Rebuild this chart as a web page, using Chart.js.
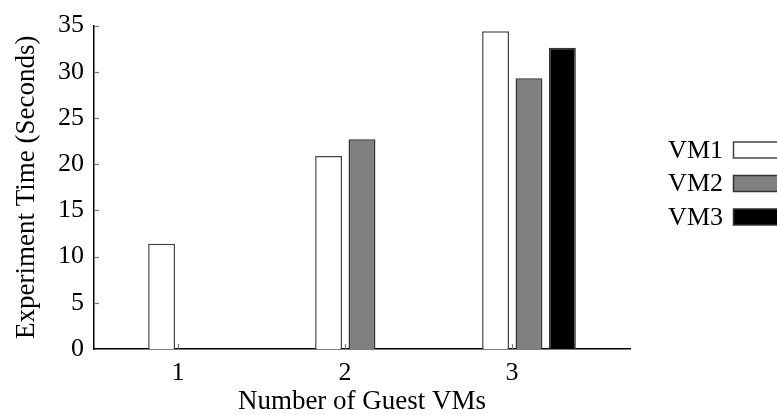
<!DOCTYPE html>
<html>
<head>
<meta charset="utf-8">
<title>Experiment Time</title>
<script src="https://cdn.jsdelivr.net/npm/chart.js@4.4.0/dist/chart.umd.min.js"></script>
<style>
    html, body { margin: 0; padding: 0; background: #fff; }
    #contenedor { width: 777px; height: 415px; }
</style>
</head>
<body>
<div id="contenedor"><canvas id="tiemposChart"></canvas></div>
<script>
// Datos de la grafica
var guestVMs = [1, 2, 3];
var vm1 = [11.4, 20.9, 34.4];
var vm2 = [null, 22.7, 29.3];
var vm3 = [null, null, 32.6];
var yTicks = [0, 5, 10, 15, 20, 25, 30, 35];

var fuente = "'Liberation Serif', 'DejaVu Serif', serif";

function puntos(valores) {
    var lista = [];
    for (var i = 0; i < guestVMs.length; i++) {
        lista.push({ x: guestVMs[i], y: valores[i] });
    }
    return lista;
}

// Marcas cortas hacia dentro y leyenda a la derecha (texto primero, caja despues)
var marcasYLeyenda = {
    id: 'marcasYLeyenda',
    afterDraw: function (chart) {
        var ctx = chart.ctx;
        var xs = chart.scales.x;
        var ys = chart.scales.y;
        var area = chart.chartArea;
        ctx.save();
        ctx.strokeStyle = '#777';
        ctx.lineWidth = 1.2;
        for (var i = 1; i < yTicks.length; i++) {
            var py = Math.round(ys.getPixelForValue(yTicks[i])) + 0.5;
            ctx.beginPath();
            ctx.moveTo(area.left, py);
            ctx.lineTo(area.left + 5, py);
            ctx.stroke();
        }
        for (var j = 0; j < guestVMs.length; j++) {
            var px = Math.round(xs.getPixelForValue(guestVMs[j]) - 17) + 0.5;
            ctx.beginPath();
            ctx.moveTo(px, area.bottom);
            ctx.lineTo(px, area.bottom - 5);
            ctx.stroke();
        }

        var sets = chart.data.datasets;
        ctx.font = '26px ' + fuente;
        ctx.textAlign = 'right';
        ctx.textBaseline = 'middle';
        for (var k = 0; k < sets.length; k++) {
            var cy = 150 + k * 33.5;
            ctx.fillStyle = '#000';
            ctx.fillText(sets[k].label, 723, cy + 1);
            ctx.fillStyle = sets[k].backgroundColor;
            ctx.fillRect(733.5, cy - 8, 46, 16);
            ctx.strokeStyle = sets[k].borderColor;
            ctx.lineWidth = 1.5;
            ctx.strokeRect(733.5, cy - 8, 46, 16);
        }
        ctx.restore();
    }
};

var config = {
    type: 'bar',
    data: {
        datasets: [{
            label: 'VM1',
            data: puntos(vm1),
            backgroundColor: '#ffffff',
            borderColor: '#444444',
            borderWidth: 1.5
        }, {
            label: 'VM2',
            data: puntos(vm2),
            backgroundColor: '#808080',
            borderColor: '#333333',
            borderWidth: 1.5
        }, {
            label: 'VM3',
            data: puntos(vm3),
            backgroundColor: '#000000',
            borderColor: '#333333',
            borderWidth: 1.5
        }]
    },
    options: {
        responsive: true,
        maintainAspectRatio: false,
        animation: false,
        categoryPercentage: 0.6,
        barPercentage: 0.806,
        layout: { padding: { left: 0, top: 17, right: 147, bottom: 0 } },
        plugins: {
            legend: { display: false },
            tooltip: { enabled: false }
        },
        scales: {
            x: {
                type: 'linear',
                offset: false,
                min: 0.395,
                max: 3.605,
                grid: { display: false, drawTicks: false, offset: false },
                border: { display: true, color: '#000', width: 1.5 },
                ticks: {
                    stepSize: 1,
                    includeBounds: false,
                    labelOffset: -17,
                    padding: 9,
                    color: '#000',
                    font: { family: fuente, size: 26 },
                    callback: function (v) { return v; }
                },
                title: {
                    display: true,
                    text: 'Number of Guest VMs',
                    color: '#000',
                    font: { family: fuente, size: 27 },
                    padding: { top: 0, bottom: -3 }
                },
                afterFit: function (scale) { scale.height = 66; }
            },
            y: {
                min: 0,
                max: 35,
                grid: { display: false, drawTicks: false },
                border: { display: true, color: '#000', width: 1.5 },
                ticks: {
                    stepSize: 5,
                    padding: 10,
                    color: '#000',
                    font: { family: fuente, size: 26 }
                },
                title: {
                    display: true,
                    text: 'Experiment Time (Seconds)',
                    color: '#000',
                    font: { family: fuente, size: 27 },
                    padding: { top: 11, bottom: 0 }
                },
                afterFit: function (scale) { scale.width = 94; }
            }
        }
    },
    plugins: [marcasYLeyenda]
};

new Chart(document.getElementById('tiemposChart'), config);
</script>
</body>
</html>
